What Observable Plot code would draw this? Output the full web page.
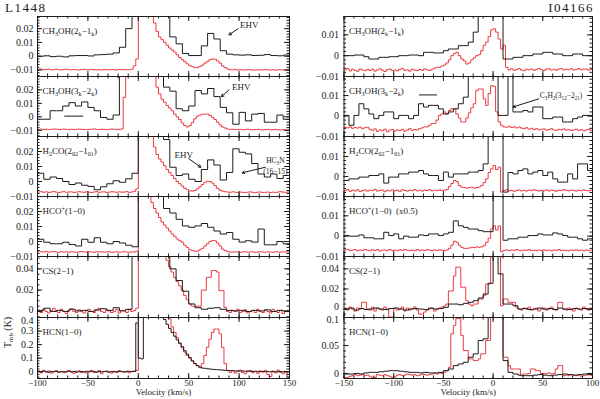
<!DOCTYPE html>
<html><head><meta charset="utf-8">
<script src="https://cdn.jsdelivr.net/npm/d3@7"></script>
<script src="https://cdn.jsdelivr.net/npm/@observablehq/plot@0.6"></script>
<style>
body{margin:0;background:#fff}
#root{position:relative;width:600px;height:399px;font-family:"Liberation Serif","DejaVu Serif",serif;color:#1a1a1a;overflow:hidden}
#root svg{position:absolute}
.ttl{position:absolute;top:1px;font-size:13px;line-height:14px;letter-spacing:1.5px}
</style></head><body><div id="root">
<div class="ttl" style="left:5px">L1448</div>
<div class="ttl" style="right:6px">I04166</div>
</div>
<script>
// velocity ranges (km/s) of the two columns
const L_VEL = [-100, 150];
const R_VEL = [-150, 100];

// ---- L1448 (values in mK, uniform channels across the velocity range) ----
const L_CH3OH21_BLACK = [0,0.3,-0.3,0,-0.5,0.3,0.5,0.5,0.2,1.0, 1.2,1.5,2.4,6.5,20,60,100,100,80,60, 40,14,9,2,0.5,0.5,7.5,16.5,12.5,4, 1.5,1,0.8,1,0.5,0.7,1.2,0.5,0.3,0.8];
const L_CH3OH21_RED = [-9.5,-9.3,-9.8,-9.6,-9.4,-9.9,-9.7,-9.5,-9.8,-10, -9.6,-9.4,-9.7,-9.9,-9.6,-9.8,-10,-9.7,-9.5,-9.8, -9.9,-9.6,-9.8,-10,-9.7,-9.9,-9.6,-9.8,-9.9,-9.7, -9.8,-10,-9.6,-9.8,-9.7,-9.9,-9.8,-9.4,-7,-2, 40,60,80,70,55,40,24,18,14,12, 10,8,6,4.5,3,1,-1,-2.5,-4,-5.5, -6.8,-7.5,-8.3,-8.3,-7.5,-6.5,-5,-3.8,-2.6,-2, -2.2,-3.5,-5,-7,-8.3,-9.2,-9.8,-9.9,-9.7,-10, -9.8,-9.9,-10,-9.7,-9.8,-10.1,-9.9,-9.8,-10,-9.9, -9.7,-9.9,-10,-9.8,-10.1,-9.9,-9.8,-10,-9.9,-9.8];
const L_CH3OH32_BLACK = [-1.8,-1.8,4.5,4.5,8,10.5,8,11,7,4.5, -0.5,-1.8,1.3,40,60,100,100,90,70,35, 22,19,6,4.5,8,19.5,17,21,15,7, 3,-5.5,3.3,-3,2,2.5,-4,-4,1.3,-1.8];
const L_CH3OH32_RED = [-9.3,-9.1,-9.4,-9.2,-9.5,-9.3,-9.0,-9.2,-9.4,-9.3, -9.1,-9.3,-9.5,-9.2,-9.4,-9.3,-9.1,-9.2,-9.4,-9.5, -9.3,-9.2,-9.0,-9.3,-9.4,-9.2,-9.3,-9.5,-9.3,-9.1, -9.2,-9.4,-9.3,-9.0,14.5,50,80,100,100,100, 100,100,90,80,60,45,30,22,17,13, 10.8,8.3,6.5,4.5,2,0,-2,-4.5,-6.5,-7.5, -6.5,-4.3,-1.5,0.5,1.3,2,2,2,1,-0.5, -2,-4,-6,-7.5,-8.3,-9,-9.3,-9.2,-9.4,-9.5, -9.3,-9.6,-9.4,-9.2,-9.5,-9.7,-9.4,-9.3,-9.6,-9.8, -9.5,-9.4,-9.7,-9.5,-9.3,-9.6,-9.8,-9.5,-9.7,-10];
const L_H2CO_BLACK = [5.5,1.5,3,2,0,-2,-1,-2.5,-3.3,-5.5, -3.5,-1.5,0.5,-0.5,1.8,5.5,100,100,90,70, 28,9.5,4,5,1.5,0,8,14.4,11,1, 6,21.8,19.5,18.4,12,5,3,5,2,4];
const L_H2CO_RED = [-7,-6.8,-7.2,-6.9,-7.3,-7,-6.7,-7.1,-7.4,-7, -6.8,-7.2,-7,-6.9,-7.3,-7.1,-6.8,-7,-7.2,-6.9, -7.1,-7.3,-7,-6.8,-7.2,-7,-6.9,-7.3,-7.1,-6.8, -7,-7.2,-6.9,-7.1,-7,-6.8,-7.2,-7,-6.6,-5, 40,80,100,80,50,30,23,18,15,13, 10.5,8,6,4,2,0,-1.5,-3,-4.5,-5.5, -6.2,-6.4,-6,-5,-3.5,-2,-0.5,0.2,0,-1, -2.7,-4.5,-5.8,-6.4,-6.8,-7,-7.2,-6.9,-7.1,-7.3, -7,-7.2,-7.4,-7.1,-6.9,-7.2,-7.5,-7.1,-7,-7.3, -7.2,-7,-7.4,-7.1,-7.3,-7,-6.8,-7.1,-7.2,-7];
const L_HCO_BLACK = [1.5,-0.5,-1.5,-1.5,-0.5,-2,-3,1.5,-0.5,2.5, -0.5,-1.5,0,-1,-2.5,-3.5,100,100,80,60, 22,19,14.8,10.4,9.5,10.4,12,9.5,7,5, 6,1.5,-0.4,0.5,-0.4,8.3,-2.2,-2.2,0,-1.5];
const L_HCO_RED = [-6.5,-6.8,-7,-6.7,-7.1,-6.9,-6.6,-7,-7.2,-6.8, -7,-6.9,-7.1,-6.8,-7,-7.2,-6.9,-6.7,-7,-7.1, -6.9,-7,-7.2,-6.8,-7,-6.9,-7.1,-7,-6.8,-7.2, -7,-6.9,-7.1,-7,-6.8,-7,-7.2,-6.9,-7,-6.5, 50,100,100,60,35,26,22,19,16,13, 11,9,7,5,3.5,1.7,0.5,-0.5,-2.5,-4, -5.5,-6,-6.5,-6.5,-5.5,-4.5,-3,-1.5,0,0.7, 0.5,-1,-3,-5,-6,-6.8,-7,-7.1,-6.9,-7, -7.2,-7,-6.8,-7.1,-7,-6.9,-7.2,-7,-6.8,-7, -7.1,-6.9,-7,-7.2,-6.8,-7,-7.1,-6.9,-7,-6.8];
const L_CS_BLACK = [1,3,0,1,0,2,0.5,1,0,1.5, 2.5,1,3.5,0.5,2,100,150,150,120,80, 52,40,29,19,7,3.5,2,3,3.5,2, 1,0.5,1,0,1,0.5,1.5,0,1,0.5];
const L_CS_RED = [1,-1,2,0,-1.5,1,3,0,-1,2, 0,-2,1,2.5,0,-1,1.5,0,-1.5,1, 2,0,-1,1,3,0,-1,1.5,0.5,-1, 0,2,-1.5,1,0.5,-1,2,0,1,3, 60,150,150,150,150,150,150,150,120,90, 55,48,42,37,32,28,24,20,15,11, 7,5,4.5,5,5,20,20,32,32,38.5, 38.5,37,19.5,19.5,3.8,0,-1,1,0,2, -1,0,1.5,-1.5,0,1,-1,2,0,-1, 1,0,-1.5,2,0,-1,1,-2,0,1];
const L_HCN_BLACK = [3,-2,5,0,-4,2,-1,3,-3,1, 0,-2,4,-1,2,-3,0,1,-2,3, -1,2,0,-3,1,-1,2,0,-2,1, 0,-1,2,1,-2,0,3,1,2,360, 100,95,500,500,500,500,500,500,500,420, 385,350,320,290,262,235,210,185,155,130, 105,80,60,45,35,27,25,22,20,18, 16,15,14,12,10,9,8,7,6,6, 5,5,4,4,3,2,3,2,1,2, 0,1,0,1,-1,0,1,0,-1,0];
const L_HCN_RED = [5,-8,10,-3,6,-10,2,8,-5,0, -7,4,9,-2,-12,3,7,-6,1,-9, 4,10,-5,-2,8,-15,2,6,-4,-10, 3,-6,8,1,-3,5,-8,2,6,10, 500,500,500,500,500,500,500,500,500,500, 500,500,390,330,290,250,210,175,145,120, 100,80,60,45,30,60,120,180,240,290, 315,315,280,180,60,10,-5,8,-10,3, 12,-6,-15,5,9,-8,2,-12,6,-3, 10,-20,-35,4,-8,12,-5,-15,3,-40];

// ---- I04166 ----
const R_CH3OH21_BLACK = [0,0,0.3,0.3,-0.5,-1.6,-1.6,-0.8,-0.8,-0.5, -0.5,0,0,0.3,0.3,0,1.6,1.6,1.3,1.3, 2.4,3.2,3.2,4.8,4.8,6.5,11.3,30,30,30, 30,30,-1.6,-1.6,-0.8,-0.8,0,0,0.8,0.8, 1.6,1.6,0.8,0.8,0,0,0.8,0.8,0,0];
const R_CH3OH21_RED = [-6.8,-6.2,-7.3,-6.5,-7,-7.5,-6.4,-6.9,-7.2,-6.6, -7.1,-6.5,-7.4,-6.8,-6.3,-7,-7.6,-6.7,-6.4,-7.1, -6.9,-7.3,-6.6,-6.2,-7,-6.8,-7.4,-6.5,-6.9,-7.2, -6.6,-7,-6.4,-6.8,-7.1,-6.5,-6,-5.6,-5.6,-5, -4.5,-3.5,-2,0,1,1.6,0,-1.6,-2.5,-4, -3.5,-2,-1,0,0.5,2.4,5,6.5,9.2,12.4, 12.9,11.3,8,3.2,5,-5.6,-6.8,-6.3,-7,-6.6, -6.2,-6.9,-7.2,-6.5,-6.8,-6.4,-7,-6.6,-6.1,-6.8, -7.1,-6.5,-6.3,-6.9,-6.6,-7,-6.4,-6.2,-6.8,-6.5, -6.7,-6.3,-6.9,-6.6,-6.2,-6.8,-6.5,-6.4,-6.9,-6.6];
const R_CH3OH32_BLACK = [0.3,-4.5,0.3,6,3.5,1,-1.3,0.3,2,2, -1.3,0.3,0.3,-1.3,0.3,6,4.4,5.2,5.2,3.5, 1,2,3.5,6,9.2,30,30,30,30,30, 30,0.3,0.3,30,2,2,2.7,2,4.4,4.4, -1.3,-1.3,-0.5,-0.5,-2.9,-2.9,-1.3,-0.5,0.3,0.3];
const R_CH3OH32_RED = [-5.5,-5.8,-5.3,-6,-5.6,-5.9,-5.4,-6.2,-5.7,-5.5, -6.5,-7,-6.3,-7.5,-6.8,-7.2,-6.4,-7.7,-6.9,-6.6, -7.3,-6.8,-7.1,-6.5,-7.4,-6.9,-6.2,-7,-6.6,-6.8, -6.2,-5.8,-5.3,-5.3,-4.5,-3.7,-3.7,-2,0.3,1, 2,1,2.7,3.5,3.5,1,-1,-2.9,-2.9,-1, 1.5,4,6,12.4,13.2,13.2,8.4,5.2,11,14.8, 14.5,2,-2.9,-4.5,-5.3,-5.5,-5,-5.6,-5.3,-5.8, -5.4,-5.9,-6.2,-5.7,-6.4,-6,-6.6,-6.2,-6.8,-6.5, -6.3,-6.9,-6.6,-6.2,-6.8,-7,-6.5,-6.7,-6.3,-6.9, -6.6,-7.1,-6.8,-6.4,-7,-6.7,-7.2,-6.8,-6.5,-7];
const R_H2CO_BLACK = [-2,-1.2,-1.2,-0.3,-0.3,0.5,0.5,1.3,-3.3,-0.3, -0.3,1.3,1.3,2.2,2.2,3,1.3,0.5,0.5,-2, 2.2,-0.3,1.3,1.3,1.3,2.2,2.2,3,6.3,30, 30,30,-7.8,2,1.3,3,3.8,1.3,2.2,3, 0.5,2.2,-1.2,-2.8,-2.8,1.3,-1.2,6.3,6.3,3];
const R_H2CO_RED = [-7,-6.5,-7.4,-6.8,-7.2,-6.6,-7.5,-7,-6.7,-7.3, -6.9,-7.1,-6.4,-7.3,-7,-6.8,-7.6,-6.9,-7.2,-6.7, -7.1,-6.8,-7.4,-6.6,-7,-7.3,-6.9,-7.1,-6.5,-7.2, -6.9,-7.3,-6.8,-7,-6.6,-7.2,-6.9,-7.1,-6.7,-7, -6.8,-6.5,-5,-3.5,-2,-2.5,-4.5,-5.3,-5.5,-5.8, -5.5,-5.3,-5.8,-5.5,-5.2,-4.5,-3,-1.2,2,3.8, 5.5,3.5,4.7,-7.8,-7,-6.6,-7.2,-6.9,-7.4,-7, -6.7,-7.2,-6.9,-7.3,-6.8,-7.1,-6.6,-7,-7.3,-6.9, -7.1,-6.7,-7.2,-6.8,-7,-7.4,-6.9,-7.1,-6.6,-7, -7.2,-6.8,-7,-7.3,-6.9,-7.1,-6.7,-7,-7.2,-6.9];
const R_HCO_BLACK = [0.3,0,0,0.6,-0.8,-0.8,-1.3,-1.3,1.9,0.3, 1.1,-1.3,0,-0.5,-0.5,0.6,0.3,1.1,1.1,0.3, 1.1,1.9,7.5,5.1,4.3,3.5,3.5,2.7,2.2,2.2, 30,30,-2,-1.3,-1.3,-0.5,-0.5,0.3,0.3,1.1, 0.6,0.6,1.6,1.1,0.3,-0.5,-0.5,-1.3,-2,-1.3];
const R_HCO_RED = [-6.8,-6.5,-7.1,-6.9,-6.6,-7.2,-6.8,-7,-6.5,-6.9, -7.2,-6.7,-7,-6.6,-7.3,-6.9,-6.8,-7.1,-6.6,-7, -6.9,-7.2,-6.7,-7,-6.5,-6.9,-7.1,-6.8,-7.2,-6.6, -7,-6.8,-7.1,-6.6,-6.9,-7.2,-6.8,-7,-6.7,-6.9, -7.1,-6.8,-6,-4.4,-2.5,-3,-4.5,-5.5,-6,-6, -5.8,-5.5,-5.6,-5.3,-5.5,-5.2,-4.5,-3,-1,3.5, 5.1,3,5,-7.6,-7,-6.7,-7.1,-6.8,-7,-6.6, -6.9,-7.2,-6.8,-7,-6.6,-7.1,-6.9,-7.2,-6.8,-7, -6.7,-7.1,-6.9,-7.2,-6.8,-7,-6.6,-7.1,-6.9,-7, -7.2,-6.8,-7,-6.7,-7.1,-6.9,-7.2,-6.8,-7,-6.9];
const R_CS_BLACK = [0,1,-1,0.5,-0.5,0,1,0,-0.5,0.5, 1,0,-1,0,0.5,0,-0.5,1,0,0.5, 1.7,5,5,4.3,5.7,6.7,8.3,11,15,25.7, 80,35,5,5,3.3,0,0.5,-0.5,0,1, 0,0.5,-0.5,1,0,-0.5,0.5,0,0.5,0];
const R_CS_RED = [1,-1,2,0,-2,1,0,6.7,6.7,0, -1,2,-2,1,0,-1,2,0,-8,-8, 1,-1,0,2,-2,1,-1,0,2,-1, -5,-5,-3,-1,0,1,-2,0,1,2, 3,5,18,18,33,41.7,41.7,21.7,21.7,8.3, 5,3.3,5,5,10,10,13.3,25,25,80, 80,80,80,3.3,10,10,6.7,6.7,6.7,2, 0,-1,1,0,2,-1,0,1,-2,0, 1,-1,0,2,0,-1,6.7,6.7,0,-1, 1,0,-2,1,0,-1,2,0,-1,1];
const R_HCN_BLACK = [-1,-1,0,-1,1,2,2,3,4,5, 5,4,3,2,2,1,2,1,1,2, 5,8,14,17,20,29,35,59,62,150, 150,150,23,2,-1,-3,-4,-4,-3,-2, -3,-4,-3,-2,-1,-2,-3,-2,-1,-2];
const R_HCN_RED = [-7,-7,-5,-4,-2,-4,-3,-1,-4,-3, -5,-7,-7,-2,-3,-4,-2,-4,-5,-7, -6,-3,-2,-4,-3,-1,-2,-3,-2,-4, -3,-1,-2,-3,-2,-1,0,-1,1,0, 2,5,11,71,86,98,98,68,41,41, 26,26,23,23,26,35,35,59,59,150, 150,150,150,150,29,29,14,8,8,8, 8,-4,-1,-1,0,8,8,5,5,0, -1,0,1,-1,0,8,14,14,-4,-3, -4,-2,-3,-4,-3,-5,-4,-3,-2,-3];

// tick values (mK)
const TICKS_MK = [-10, 0, 10, 20];
const TICKS_R_MK = [-10, 0, 10];
const TICKS_CS = [0, 20, 40];
const TICKS_L_HCN = [0, 100, 200, 300, 400];
const TICKS_R_HCN = [0, 50, 100];

const RED = "#ec3a40", BLK = "#1c1c1c";
const TOPS = [16, 76, 136, 196, 256, 317, 378];
const FONT = "'Liberation Serif','DejaVu Serif',serif";

function steps(vals, [v0, v1]) {
  const w = (v1 - v0) / vals.length;
  const pts = vals.map((T, i) => ({v: v0 + i * w, T}));
  pts.push({v: v1, T: vals[vals.length - 1]});
  return pts;
}
const fmtY = d => d === 0 ? "0" : String(+(d / 1000).toFixed(3)).replace("-", "\u2212");
const fmtX = d => String(d).replace("-", "\u2212");
const rangeIn = ([lo, hi], s) => d3.range(Math.ceil(lo / s - 1e-9) * s, hi + 1e-9, s);

function rich(svg) {
  d3.select(svg).selectAll("text").each(function () {
    const s = this.textContent;
    if (!/[_^]\{/.test(s)) return;
    const el = d3.select(this);
    el.text(null);
    let cur = 0;
    for (const m of s.matchAll(/([_^])\{([^}]*)\}|([^_^]+)/g)) {
      if (m[3] !== undefined) { el.append("tspan").attr("dy", -cur).text(m[3]); cur = 0; }
      else {
        const d = m[1] === "_" ? 2.2 : -3.2;
        el.append("tspan").attr("dy", d - cur).attr("font-size", "0.68em").text(m[2]);
        cur = d;
      }
    }
  });
}

const root = document.getElementById("root");

function makePanel(p) {
  const isL = p.col === 0;
  const top = TOPS[p.row], H = TOPS[p.row + 1] - top;
  const last = p.row === 5;
  const mT = 10, mB = last ? 26 : 10;
  const mL = isL ? 37 : 43.5, mR = isL ? 11 : 8;
  const W = 300 - mL - mR;
  const xd = isL ? L_VEL : R_VEL;
  const xMaj = rangeIn(xd, 50);
  const xMin = rangeIn(xd, 10);
  const yMin = rangeIn(p.y, p.minor);
  const id = d => d;
  const pad = isL ? 4 : 5;
  const shift = p.shift || {};
  const plain = p.ticks.filter(v => !(v in shift));
  const yLabel = (vals, dy) => Plot.text(vals, {y: id, text: fmtY, frameAnchor: "left", dx: -pad, dy, textAnchor: "end", fill: BLK});
  const marks = [
    Plot.line(steps(p.red, xd), {x: "v", y: "T", curve: "step-after", stroke: RED, strokeWidth: 1, clip: true}),
    Plot.line(steps(p.black, xd), {x: "v", y: "T", curve: "step-after", stroke: BLK, strokeWidth: 1, clip: true}),
    Plot.frame({stroke: BLK, strokeWidth: 1}),
    Plot.tickX(xMaj, {x: id, insetTop: H - 5, stroke: BLK}),
    Plot.tickX(xMaj, {x: id, insetBottom: H - 5, stroke: BLK}),
    Plot.tickX(xMin, {x: id, insetTop: H - 2.5, stroke: BLK}),
    Plot.tickX(xMin, {x: id, insetBottom: H - 2.5, stroke: BLK}),
    Plot.tickY(p.ticks, {y: id, insetRight: W - 5, stroke: BLK}),
    Plot.tickY(p.ticks, {y: id, insetLeft: W - 5, stroke: BLK}),
    Plot.tickY(yMin, {y: id, insetRight: W - 2.5, stroke: BLK}),
    Plot.tickY(yMin, {y: id, insetLeft: W - 2.5, stroke: BLK}),
    yLabel(plain, 0),
    ...Object.entries(shift).map(([v, dy]) => yLabel([+v], dy)),
    Plot.text([p.label], {text: id, frameAnchor: "top-left", dx: 5, dy: 11, textAnchor: "start", fontSize: 9, fill: BLK}),
    ...(p.extras || [])
  ];
  if (last) {
    marks.push(Plot.axisX(xMaj, {tickSize: 0, tickPadding: 1, tickFormat: fmtX, label: null, fill: BLK, fontSize: 9}));
    marks.push(Plot.text(["Velocity (km/s)"], {text: id, frameAnchor: "bottom", dy: 16.5, fontSize: 9, fill: BLK}));
    if (isL) marks.push(Plot.text(["T_{mb} (K)"], {text: id, frameAnchor: "left", dx: -30, rotate: -90, fontSize: 10, fill: BLK}));
  }
  const svg = Plot.plot({
    width: 300, height: H + mT + mB,
    marginTop: mT, marginBottom: mB, marginLeft: mL, marginRight: mR,
    x: {domain: xd, axis: null},
    y: {domain: p.y, axis: null},
    style: {fontFamily: FONT, fontSize: "10px", background: "transparent", overflow: "visible", color: BLK},
    marks
  });
  rich(svg);
  svg.style.left = (isL ? 0 : 300) + "px";
  svg.style.top = (top - mT) + "px";
  root.appendChild(svg);
}

const ann = (x1, y1, x2, y2) => Plot.arrow([{x1, y1, x2, y2}], {x1: "x1", y1: "y1", x2: "x2", y2: "y2", stroke: BLK, strokeWidth: 1, headLength: 4});
const note = (x, y, s, opts = {}) => Plot.text([{x, y, s}], {x: "x", y: "y", text: "s", textAnchor: "start", fontSize: 9, fill: BLK, ...opts});
const bar = (x1, x2, y) => Plot.ruleY([y], {x1, x2, stroke: BLK, strokeWidth: 1});

const panels = [
  {col: 0, row: 0, y: [-14.7, 28.8], ticks: TICKS_MK, minor: 2, label: "CH_{3}OH(2_{k}\u22121_{k})", black: L_CH3OH21_BLACK, red: L_CH3OH21_RED,
   extras: [note(101, 22.5, "EHV"), ann(99, 20, 90, 15.5)]},
  {col: 0, row: 1, y: [-14.6, 29.9], ticks: TICKS_MK, minor: 2, label: "CH_{3}OH(3_{k}\u22122_{k})", black: L_CH3OH32_BLACK, red: L_CH3OH32_RED,
   extras: [bar(-73, -54, 0.5), note(93, 22, "EHV"), ann(90, 20, 82.5, 15)]},
  {col: 0, row: 2, y: [-10, 30], ticks: TICKS_MK, minor: 2, label: "H_{2}CO(2_{02}\u22121_{01})", black: L_H2CO_BLACK, red: L_H2CO_RED,
   extras: [note(36, 17.5, "EHV"), ann(50, 15.3, 62, 9.5),
            note(136, 14, "HC_{3}N", {textAnchor: "middle", fontSize: 7.5}), note(136, 6.5, "(16\u221215)", {textAnchor: "middle", fontSize: 7.5}),
            ann(126, 9.5, 103, 5.8)]},
  {col: 0, row: 3, y: [-10, 30], ticks: TICKS_MK, minor: 2, label: "HCO^{+}(1\u22120)", black: L_HCO_BLACK, red: L_HCO_RED},
  {col: 0, row: 4, y: [-5.7, 51.6], ticks: TICKS_CS, minor: 5, shift: {0: -2}, label: "CS(2\u22121)", black: L_CS_BLACK, red: L_CS_RED},
  {col: 0, row: 5, y: [-50, 400], ticks: TICKS_L_HCN, minor: 20, shift: {400: 3}, label: "HCN(1\u22120)", black: L_HCN_BLACK, red: L_HCN_RED},
  {col: 1, row: 0, y: [-10, 18.8], ticks: TICKS_R_MK, minor: 2, label: "CH_{3}OH(2_{k}\u22121_{k})", black: R_CH3OH21_BLACK, red: R_CH3OH21_RED},
  {col: 1, row: 1, y: [-10, 19.3], ticks: TICKS_R_MK, minor: 2, label: "CH_{3}OH(3_{k}\u22122_{k})", black: R_CH3OH32_BLACK, red: R_CH3OH32_RED,
   extras: [bar(-74, -56, 10.3), note(47, 10, "C_{3}H_{2}(3_{12}\u22122_{21})", {fontSize: 7.5}), ann(46, 8.4, 20, 4.4)]},
  {col: 1, row: 2, y: [-10, 20], ticks: TICKS_R_MK, minor: 2, label: "H_{2}CO(2_{02}\u22121_{01})", black: R_H2CO_BLACK, red: R_H2CO_RED},
  {col: 1, row: 3, y: [-10, 19.5], ticks: TICKS_R_MK, minor: 2, label: "HCO^{+}(1\u22120)  (x0.5)", black: R_HCO_BLACK, red: R_HCO_RED},
  {col: 1, row: 4, y: [-8.4, 52.3], ticks: TICKS_CS, minor: 5, shift: {0: -2}, label: "CS(2\u22121)", black: R_CS_BLACK, red: R_CS_RED},
  {col: 1, row: 5, y: [-9, 100], ticks: TICKS_R_HCN, minor: 10, shift: {100: 2.5}, label: "HCN(1\u22120)", black: R_HCN_BLACK, red: R_HCN_RED}
];
panels.forEach(makePanel);
</script>
</body></html>
